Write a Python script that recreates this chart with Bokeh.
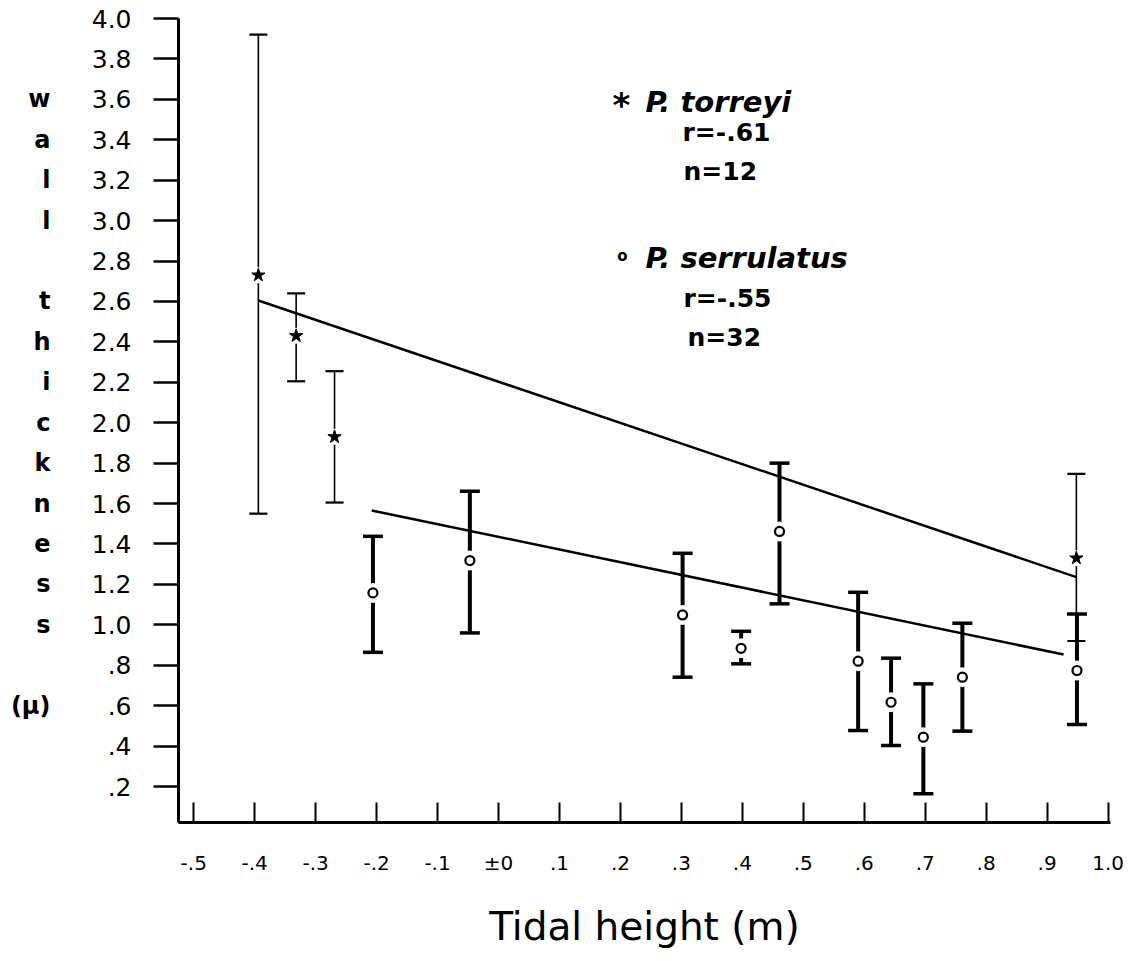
from bokeh.plotting import figure
from bokeh.models import Range1d, FixedTicker, CustomJSTickFormatter, Label, LinearAxis
from bokeh.embed import file_html
from bokeh.resources import INLINE

# ---------------- data ----------------
torreyi_x = [-0.394, -0.332, -0.269, 0.948]
torreyi_mean = [2.73, 2.43, 1.93, 1.33]
torreyi_upper = [3.92, 2.64, 2.255, 1.747]
torreyi_lower = [1.55, 2.205, 1.605, 0.92]

serrulatus_x = [-0.206, -0.047, 0.302, 0.398, 0.461, 0.590, 0.644, 0.697, 0.761, 0.949]
serrulatus_mean = [1.158, 1.318, 1.049, 0.884, 1.462, 0.82, 0.617, 0.444, 0.741, 0.774]
serrulatus_upper = [1.438, 1.661, 1.354, 0.968, 1.80, 1.161, 0.835, 0.708, 1.008, 1.054]
serrulatus_lower = [0.864, 0.960, 0.741, 0.807, 1.104, 0.477, 0.403, 0.164, 0.474, 0.507]

torreyi_fit_x = [-0.394, 0.948]
torreyi_fit_y = [2.605, 1.236]
serrulatus_fit_x = [-0.208, 0.927]
serrulatus_fit_y = [1.566, 0.853]

y_ticks = [0.2, 0.4, 0.6, 0.8, 1.0, 1.2, 1.4, 1.6, 1.8, 2.0,
           2.2, 2.4, 2.6, 2.8, 3.0, 3.2, 3.4, 3.6, 3.8, 4.0]
y_tick_labels = [".2", ".4", ".6", ".8", "1.0", "1.2", "1.4", "1.6", "1.8", "2.0",
                 "2.2", "2.4", "2.6", "2.8", "3.0", "3.2", "3.4", "3.6", "3.8", "4.0"]
x_ticks = [-0.5, -0.4, -0.3, -0.2, -0.1, 0.0, 0.1, 0.2, 0.3, 0.4, 0.5, 0.6, 0.7, 0.8, 0.9, 1.0]
x_tick_labels = ["-.5", "-.4", "-.3", "-.2", "-.1", "\u00b10", ".1", ".2", ".3", ".4",
                 ".5", ".6", ".7", ".8", ".9", "1.0"]

ylabel_letters = ["w", "a", "l", "l", "t", "h", "i", "c", "k", "n", "e", "s", "s", "(\u00b5)"]
ylabel_rows = [3.6, 3.4, 3.2, 3.0, 2.6, 2.4, 2.2, 2.0, 1.8, 1.6, 1.4, 1.2, 1.0, 0.6]

FONT = "DejaVu Sans"

p = figure(width=1124, height=953,
           x_range=Range1d(-0.525, 1.004), y_range=Range1d(0.022, 4.0),
           output_backend="svg", toolbar_location=None,
           min_border_left=178, min_border_right=14, min_border_top=18, min_border_bottom=131)
p.grid.visible = False
p.outline_line_color = None

fmt_code = """
for (let i = 0; i < tvals.length; i++) {
  if (Math.abs(tvals[i] - tick) < 1e-6) return tlabels[i];
}
return '';
"""

# y axis
ya = p.yaxis[0]
ya.ticker = FixedTicker(ticks=y_ticks)
ya.formatter = CustomJSTickFormatter(args=dict(tvals=y_ticks, tlabels=y_tick_labels), code=fmt_code)
ya.major_tick_out = 25
ya.major_tick_in = 0
ya.minor_tick_line_color = None
ya.axis_line_width = 3
ya.major_tick_line_width = 2.5
ya.major_label_standoff = 22
ya.major_label_text_font = FONT
ya.major_label_text_font_size = "25px"
ya.major_label_text_color = "black"

# stacked letters of the y title, as a tick-less axis on the far left
la = LinearAxis(ticker=FixedTicker(ticks=ylabel_rows),
                formatter=CustomJSTickFormatter(args=dict(tvals=ylabel_rows, tlabels=ylabel_letters),
                                                code=fmt_code),
                axis_line_color=None, major_tick_line_color=None, minor_tick_line_color=None,
                major_tick_in=0, major_tick_out=0, major_label_standoff=38,
                major_label_text_font=FONT, major_label_text_font_size="24px",
                major_label_text_font_style="bold", major_label_text_color="black")
p.add_layout(la, "left")

# x axis
xa = p.xaxis[0]
xa.ticker = FixedTicker(ticks=x_ticks)
xa.formatter = CustomJSTickFormatter(args=dict(tvals=x_ticks, tlabels=x_tick_labels), code=fmt_code)
xa.major_tick_in = 20
xa.major_tick_out = 0
xa.minor_tick_line_color = None
xa.axis_line_width = 3
xa.major_tick_line_width = 2
xa.major_label_standoff = 28
xa.major_label_text_font = FONT
xa.major_label_text_font_size = "20px"
xa.major_label_text_color = "black"
xa.axis_label = "Tidal height (m)"
xa.axis_label_text_font = FONT
xa.axis_label_text_font_size = "39px"
xa.axis_label_text_font_style = "normal"
xa.axis_label_text_color = "black"
xa.axis_label_standoff = 26

# error bars: P. torreyi (thin)
p.segment(x0=torreyi_x, y0=torreyi_lower, x1=torreyi_x, y1=torreyi_upper,
          line_color="black", line_width=1.6)
p.scatter(torreyi_x, torreyi_upper, marker="dash", size=18, line_color="black", line_width=2.2)
p.scatter(torreyi_x, torreyi_lower, marker="dash", size=18, line_color="black", line_width=2.2)

# error bars: P. serrulatus (thick)
p.segment(x0=serrulatus_x, y0=serrulatus_lower, x1=serrulatus_x, y1=serrulatus_upper,
          line_color="black", line_width=4)
p.scatter(serrulatus_x, serrulatus_upper, marker="dash", size=20, line_color="black", line_width=3.5)
p.scatter(serrulatus_x, serrulatus_lower, marker="dash", size=20, line_color="black", line_width=3.5)

# gaps around markers
p.scatter(torreyi_x, torreyi_mean, marker="circle", size=16, fill_color="white", line_color=None)
p.scatter(serrulatus_x, serrulatus_mean, marker="circle", size=20, fill_color="white", line_color=None)

# markers
p.scatter(torreyi_x, torreyi_mean, marker="star", size=14, fill_color="black", line_color="black", line_width=1)
p.scatter(serrulatus_x, serrulatus_mean, marker="circle", size=9, fill_color="white",
          line_color="black", line_width=2.2)

# regression lines
p.line(torreyi_fit_x, torreyi_fit_y, line_color="black", line_width=2.5)
p.line(serrulatus_fit_x, serrulatus_fit_y, line_color="black", line_width=2.5)

# legend block (screen units relative to the frame)
def lab(x, y, text, size, style, align="left", baseline="alphabetic"):
    p.add_layout(Label(x=x, y=y, x_units="screen", y_units="screen", text=text,
                       text_align=align, text_baseline=baseline, text_font=FONT,
                       text_font_size=size, text_font_style=style, text_color="black"))

lab(443, 718, "*", "34px", "bold", "center", "middle")
lab(467, 721, "P. torreyi", "29px", "bold italic")
lab(504, 690, "r=-.61", "25px", "bold")
lab(505, 651, "n=12", "25px", "bold")
lab(444, 567, "o", "15px", "bold", "center", "middle")
lab(467, 565, "P. serrulatus", "29px", "bold italic")
lab(505, 524, "r=-.55", "25px", "bold")
lab(509, 485, "n=32", "25px", "bold")

open("out.html", "w").write(file_html(p, INLINE))
